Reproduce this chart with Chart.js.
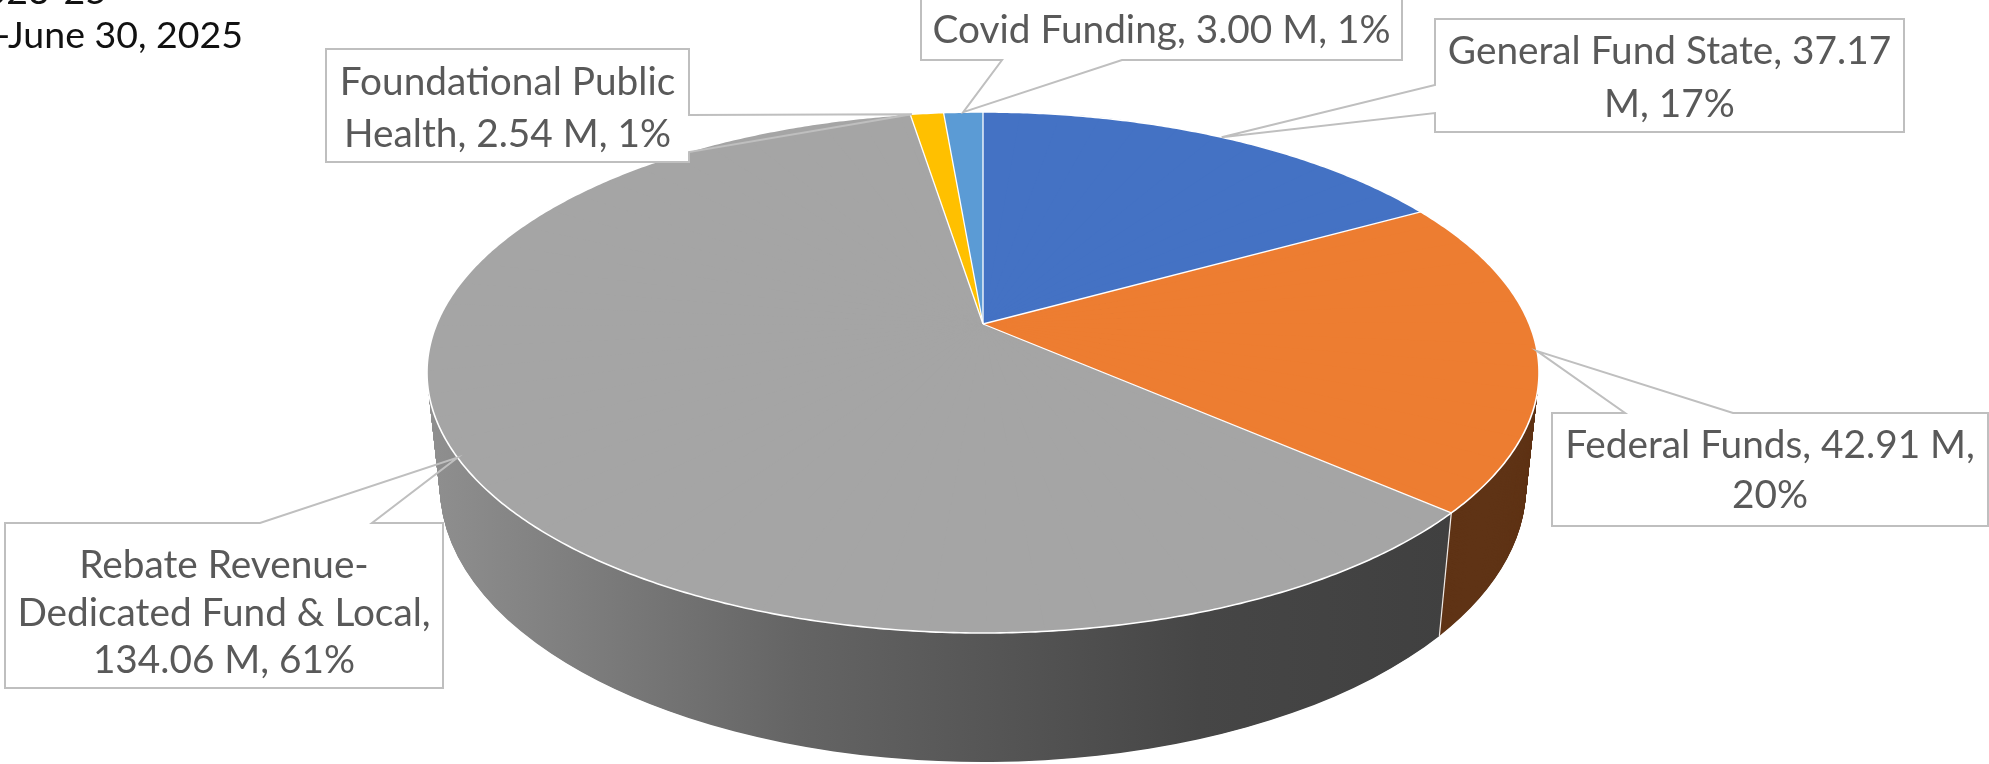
<!DOCTYPE html>
<html>
<head>
<meta charset="utf-8">
<script src="https://cdn.jsdelivr.net/npm/chart.js@4.4.1/dist/chart.umd.min.js"></script>
<style>
html,body{margin:0;padding:0;background:#ffffff;overflow:hidden;}
canvas{display:block;}
</style>
</head>
<body>
<canvas id="c" width="1989" height="764"></canvas>
<script>
// ---------------- data ----------------
const categories = ['General Fund State', 'Federal Funds', 'Rebate Revenue-Dedicated Fund & Local', 'Foundational Public Health', 'Covid Funding'];
const valuesM = [37.17, 42.91, 134.06, 2.54, 3.00];
const titleLines = ['Biennium 2023-25', 'July 1, 2023-June 30, 2025'];

// ---------------- styles / layout ----------------
const topColors  = ['#4472C4', '#ED7D31', '#A5A5A5', '#FFC000', '#5B9BD5'];
const sideColors = ['#233c69', '#5F3315', null, '#7f6000', '#2d5a86']; // null -> grey gradient
const sideGrad = { x: [430, 800, 1200, 1450], c: ['#8f8f8f', '#646464', '#464646', '#404040'] };
// measured outline of the 3-D pie (screen px)
const G = { cx: 983, apexY: 324, top: 112, bottom: 633, halfWidth: 556, frontBottom: 762 };
const labelLayout = [
  { box: [1435, 19, 469, 113], edge: 'left',   base: [85, 113],    anchor: 0.5,  lines: [4, 2],    baselines: [64, 117],       fit: [0, 445] },
  { box: [1552, 413, 436, 113], edge: 'top',   base: [1625, 1733], anchor: 0.5,  lines: [4, 1],    baselines: [458, 508],      fit: [0, 412] },
  { box: [5, 523, 438, 165],   edge: 'top',    base: [260, 372],   anchor: 0.5,  lines: [2, 4, 3], baselines: [578, 626, 673], fit: [1, 399] },
  { box: [326, 49, 363, 113],  edge: 'right',  base: [115, 152],   anchor: 0.05, lines: [2, 4],    baselines: [95, 147],       fit: [0, 339] },
  { box: [921, -3, 481, 63],   edge: 'bottom', base: [1002, 1122], anchor: 0.5,  lines: [5],       baselines: [43],            fit: [0, 465] }
];
const titleLayout = { right: [107, 243], baselines: [4, 48], fitText: 'June 30, 2025', fitWidth: 235 };
const FONT = 'Lato';

const total = valuesM.reduce((a, b) => a + b, 0);

// ---------------- perspective camera derived from the measured outline ----------------
function camera() {
  const T = G.apexY - G.top, B = G.bottom - G.apexY;
  const k = (B - T) / (B + T);
  const b = T * (1 + k);
  const a = G.halfWidth * Math.sqrt(1 - k * k);
  const s = b / a, c = Math.sqrt(1 - s * s);
  const W0 = c / k, f = a * W0;
  const FB = G.frontBottom - G.apexY;
  const h = (FB * (W0 - c) - f * s) / (f * c - FB * s);
  return { s, c, W0, f, h, a, T, B };
}
const CAM = camera();
// theta: angle from 12 o'clock, clockwise; Y: depth below the top face (in radii)
function proj(theta, Y) {
  const w = CAM.W0 + Y * CAM.s + CAM.c * Math.cos(theta);
  return {
    x: G.cx + CAM.f * Math.sin(theta) / w,
    y: G.apexY + CAM.f * (Y * CAM.c - CAM.s * Math.cos(theta)) / w
  };
}
function layerEllipse(Y) {
  const Wy = CAM.W0 + Y * CAM.s;
  const yTop = G.apexY + CAM.f * (Y * CAM.c - CAM.s) / (Wy + CAM.c);
  const yBot = G.apexY + CAM.f * (Y * CAM.c + CAM.s) / (Wy - CAM.c);
  const q = CAM.c / Wy;
  return { cx: G.cx, cy: (yTop + yBot) / 2, rx: CAM.f / (Wy * Math.sqrt(1 - q * q)), ry: (yBot - yTop) / 2 };
}
function normAng(a) { while (a > Math.PI) a -= 2 * Math.PI; while (a < -Math.PI) a += 2 * Math.PI; return a; }

function labelLinesFor(i) {
  const pct = Math.round(valuesM[i] / total * 100);
  const str = `${categories[i]}, ${valuesM[i].toFixed(2)} M, ${pct}%`;
  const toks = [];
  str.split(' ').forEach(w => w.split(/(?<=-)(?=.)/).forEach(p => toks.push(p)));
  const out = [];
  let k = 0;
  labelLayout[i].lines.forEach(n => {
    let s = '';
    for (let j = 0; j < n && k < toks.length; j++, k++) {
      s = s === '' ? toks[k] : s + (s.endsWith('-') ? '' : ' ') + toks[k];
    }
    out.push(s);
  });
  return out;
}

function drawWith(el, ctx, opts) {
  const orig = el.options;
  el.options = Object.assign({}, orig, opts);
  el.draw(ctx);
  el.options = orig;
}

const N_WEDGE = 72, MARGIN = 0.006, N_LAYER = 170;

function wedgeTransform(ctx, k, x0, y0, R) {
  const ta = 2 * Math.PI * k / N_WEDGE, tb = 2 * Math.PI * (k + 1) / N_WEDGE;
  const ua = [R * Math.sin(ta), -R * Math.cos(ta)], ub = [R * Math.sin(tb), -R * Math.cos(tb)];
  const pa = proj(ta, 0), pb = proj(tb, 0);
  const sa = [pa.x - G.cx, pa.y - G.apexY], sb = [pb.x - G.cx, pb.y - G.apexY];
  const det = ua[0] * ub[1] - ub[0] * ua[1];
  const i11 = ub[1] / det, i12 = -ub[0] / det, i21 = -ua[1] / det, i22 = ua[0] / det;
  const l11 = sa[0] * i11 + sb[0] * i21, l12 = sa[0] * i12 + sb[0] * i22;
  const l21 = sa[1] * i11 + sb[1] * i21, l22 = sa[1] * i12 + sb[1] * i22;
  ctx.transform(l11, l21, l12, l22, G.cx - (l11 * x0 + l12 * y0), G.apexY - (l21 * x0 + l22 * y0));
  ctx.beginPath();
  ctx.moveTo(x0, y0);
  const rr = R * 1.3;
  [ta - MARGIN, (ta + tb) / 2, tb + MARGIN].forEach(t => ctx.lineTo(x0 + rr * Math.sin(t), y0 - rr * Math.cos(t)));
  ctx.closePath();
  ctx.clip();
}

const pie3d = {
  id: 'pie3d',
  beforeDatasetsDraw(chart) {
    const ctx = chart.ctx;
    const els = chart.getDatasetMeta(0).data;
    const x0 = els[0].x, y0 = els[0].y, R = els[0].outerRadius;
    const W = chart.width, H = chart.height;
    const bounds = els.map(el => el.endAngle + Math.PI / 2);
    const vis = bounds.filter(t => Math.cos(t) < -0.2);

    // ---- side wall: stacked layers, bottom first ----
    for (let i = N_LAYER; i >= 1; i--) {
      const Y = CAM.h * i / N_LAYER;
      const E = layerEllipse(Y);
      let psi = 0;
      if (vis.length) {
        let acc = 0;
        vis.forEach(t => {
          const p = proj(t, Y);
          const tt = Math.atan2((p.x - E.cx) / E.rx, -(p.y - E.cy) / E.ry);
          acc += normAng(tt - t);
        });
        psi = acc / vis.length;
      }
      ctx.save();
      ctx.translate(E.cx, E.cy);
      ctx.scale(E.rx / R, E.ry / R);
      ctx.rotate(psi);
      ctx.translate(-x0, -y0);
      const m = ctx.getTransform();
      const A = m.a, B = m.c, C = m.e, n2 = A * A + B * B;
      const gx0 = sideGrad.x[0], gx1 = sideGrad.x[sideGrad.x.length - 1];
      const grad = ctx.createLinearGradient((gx0 - C) / n2 * A, (gx0 - C) / n2 * B, (gx1 - C) / n2 * A, (gx1 - C) / n2 * B);
      sideGrad.x.forEach((x, k) => grad.addColorStop((x - gx0) / (gx1 - gx0), sideGrad.c[k]));
      els.forEach((el, j) => drawWith(el, ctx, { backgroundColor: sideColors[j] || grad, borderWidth: 0 }));
      ctx.restore();
    }
    // seams between side-wall colours
    ctx.save();
    ctx.strokeStyle = 'rgba(255,255,255,0.9)';
    ctx.lineWidth = 1.2;
    vis.forEach(t => {
      const a = proj(t, 0), b = proj(t, CAM.h);
      ctx.beginPath(); ctx.moveTo(a.x, a.y); ctx.lineTo(b.x, b.y); ctx.stroke();
    });
    ctx.restore();

    // ---- top face base near the centre (fills sub-pixel gaps between wedges) ----
    [[0, G.apexY, CAM.T], [G.apexY, H, CAM.B]].forEach(([ya, yb, ry]) => {
      ctx.save();
      ctx.beginPath(); ctx.rect(0, ya, W, yb - ya); ctx.clip();
      ctx.beginPath(); ctx.ellipse(G.cx, G.apexY, 120, 60, 0, 0, 2 * Math.PI); ctx.clip();
      ctx.translate(G.cx, G.apexY);
      ctx.scale(CAM.a / R, ry / R);
      ctx.translate(-x0, -y0);
      els.forEach(el => drawWith(el, ctx, { borderWidth: 0 }));
      ctx.restore();
    });

    // ---- top face: perspective approximated by angular wedges ----
    for (let k = 0; k < N_WEDGE - 1; k++) {
      ctx.save();
      wedgeTransform(ctx, k, x0, y0, R);
      els.forEach(el => drawWith(el, ctx, { borderWidth: 0 }));
      ctx.restore();
    }
    // last wedge: left to the library's own dataset drawing
    ctx.save();
    wedgeTransform(ctx, N_WEDGE - 1, x0, y0, R);
  },
  afterDatasetsDraw(chart) {
    const ctx = chart.ctx;
    ctx.restore();
    // white separators and rim outline of the top face
    const els = chart.getDatasetMeta(0).data;
    ctx.save();
    ctx.strokeStyle = '#FFFFFF';
    ctx.lineJoin = 'round';
    ctx.lineWidth = 1.3;
    els.forEach(el => {
      const p = proj(el.endAngle + Math.PI / 2, 0);
      ctx.beginPath(); ctx.moveTo(G.cx, G.apexY); ctx.lineTo(p.x, p.y); ctx.stroke();
    });
    ctx.lineWidth = 1.6;
    ctx.beginPath();
    for (let i = 0; i <= 720; i++) {
      const p = proj(2 * Math.PI * i / 720, 0);
      if (i === 0) ctx.moveTo(p.x, p.y); else ctx.lineTo(p.x, p.y);
    }
    ctx.closePath();
    ctx.stroke();
    ctx.restore();
  }
};

const labelsPlugin = {
  id: 'calloutLabels',
  afterDraw(chart) {
    const ctx = chart.ctx;
    const els = chart.getDatasetMeta(0).data;
    const allLines = labelLayout.map((L, i) => labelLinesFor(i));
    ctx.save();
    ctx.font = `100px ${FONT}`;
    let sum = 0;
    labelLayout.forEach((L, i) => { sum += 100 * L.fit[1] / ctx.measureText(allLines[i][L.fit[0]]).width; });
    ctx.restore();
    const fs = sum / labelLayout.length;

    labelLayout.forEach((L, i) => {
      const el = els[i];
      const th = el.startAngle + (el.endAngle - el.startAngle) * L.anchor + Math.PI / 2;
      const tip = proj(th, 0);
      const [x, y, w, h] = L.box;
      ctx.save();
      ctx.fillStyle = '#ffffff';
      ctx.fillRect(x, y, w, h);
      ctx.beginPath();
      if (L.edge === 'left') {
        ctx.moveTo(x, y); ctx.lineTo(x + w, y); ctx.lineTo(x + w, y + h); ctx.lineTo(x, y + h);
        ctx.lineTo(x, L.base[1]); ctx.lineTo(tip.x, tip.y); ctx.lineTo(x, L.base[0]); ctx.closePath();
      } else if (L.edge === 'top') {
        ctx.moveTo(x, y); ctx.lineTo(L.base[0], y); ctx.lineTo(tip.x, tip.y); ctx.lineTo(L.base[1], y);
        ctx.lineTo(x + w, y); ctx.lineTo(x + w, y + h); ctx.lineTo(x, y + h); ctx.closePath();
      } else if (L.edge === 'right') {
        ctx.moveTo(x, y); ctx.lineTo(x + w, y); ctx.lineTo(x + w, L.base[0]); ctx.lineTo(tip.x, tip.y);
        ctx.lineTo(x + w, L.base[1]); ctx.lineTo(x + w, y + h); ctx.lineTo(x, y + h); ctx.closePath();
      } else {
        ctx.moveTo(x, y); ctx.lineTo(x + w, y); ctx.lineTo(x + w, y + h); ctx.lineTo(L.base[1], y + h);
        ctx.lineTo(tip.x, tip.y); ctx.lineTo(L.base[0], y + h); ctx.lineTo(x, y + h); ctx.closePath();
      }
      ctx.strokeStyle = '#BFBFBF';
      ctx.lineWidth = 2;
      ctx.lineJoin = 'miter';
      ctx.stroke();
      ctx.fillStyle = '#595959';
      ctx.font = `${fs.toFixed(2)}px ${FONT}`;
      ctx.textAlign = 'center';
      ctx.textBaseline = 'alphabetic';
      allLines[i].forEach((s, k) => ctx.fillText(s, x + w / 2, L.baselines[k]));
      ctx.restore();
    });

    // title (cut off at the top-left in the original)
    ctx.save();
    ctx.font = `100px ${FONT}`;
    const tfs = 100 * titleLayout.fitWidth / ctx.measureText(titleLayout.fitText).width;
    ctx.font = `${tfs.toFixed(2)}px ${FONT}`;
    ctx.fillStyle = '#111111';
    ctx.textAlign = 'right';
    ctx.textBaseline = 'alphabetic';
    titleLines.forEach((s, k) => ctx.fillText(s, titleLayout.right[k], titleLayout.baselines[k]));
    ctx.restore();
  }
};

function build() {
  new Chart(document.getElementById('c'), {
    type: 'pie',
    data: {
      labels: categories,
      datasets: [{
        data: valuesM,
        backgroundColor: topColors,
        borderColor: '#FFFFFF',
        borderWidth: 0,
        clip: false
      }]
    },
    options: {
      responsive: false,
      animation: false,
      devicePixelRatio: 1,
      events: [],
      layout: { padding: 0 },
      plugins: { legend: { display: false }, tooltip: { enabled: false }, title: { display: false } }
    },
    plugins: [pie3d, labelsPlugin]
  });
}
if (document.fonts && document.fonts.load) {
  document.fonts.load(`40px ${FONT}`).then(build, build);
} else {
  build();
}
</script>
</body>
</html>
